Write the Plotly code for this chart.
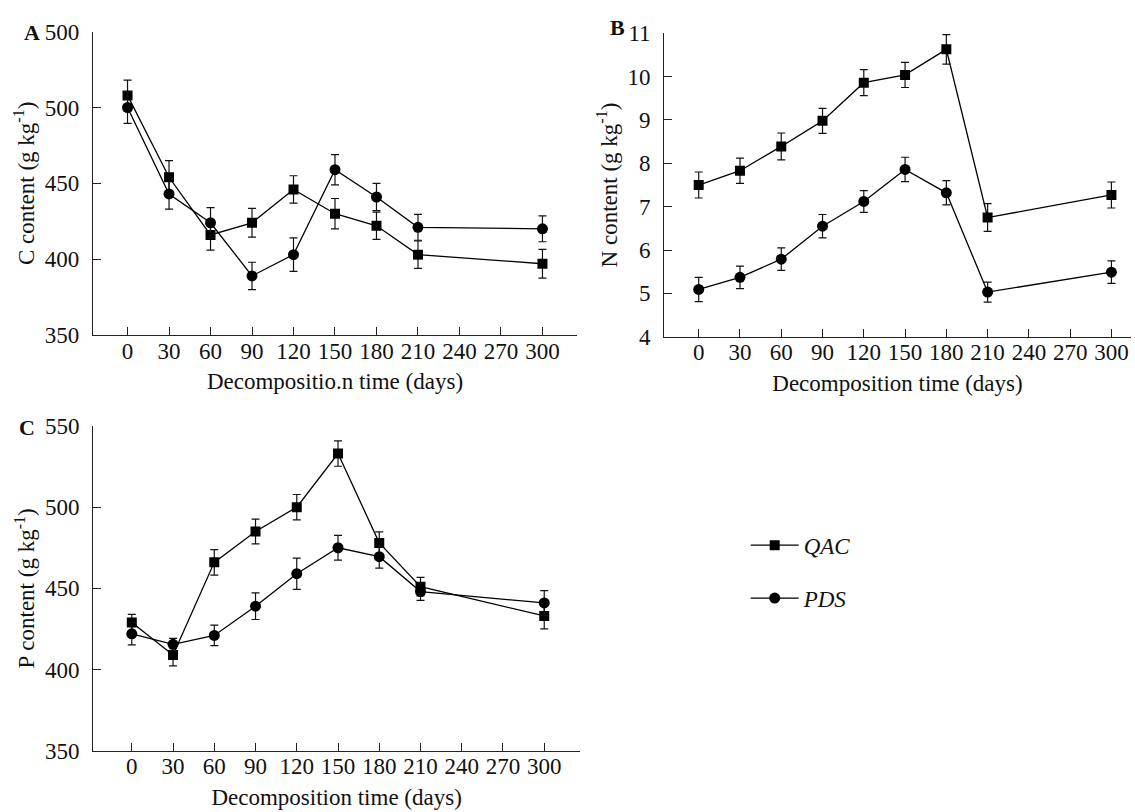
import plotly.graph_objects as go

days = [0, 30, 60, 90, 120, 150, 180, 210, 300]
x_ticks = [0, 30, 60, 90, 120, 150, 180, 210, 240, 270, 300]

# Panel A: C content (g kg-1)
c_qac = [508, 454, 416, 424, 446, 430, 422, 403, 397]
c_qac_err = [10, 11, 10, 9.5, 9, 10, 9, 9, 9.5]
c_pds = [500, 443, 424, 389, 403, 459, 441, 421, 420]
c_pds_err = [10.5, 10, 10, 9, 11, 10, 9, 8.5, 8.5]

# Panel B: N content (g kg-1)
n_qac = [7.50, 7.83, 8.39, 8.98, 9.86, 10.04, 10.63, 6.75, 7.27]
n_qac_err = [0.30, 0.29, 0.31, 0.29, 0.30, 0.29, 0.34, 0.32, 0.30]
n_pds = [5.09, 5.37, 5.79, 6.55, 7.12, 7.86, 7.32, 5.03, 5.49]
n_pds_err = [0.28, 0.26, 0.26, 0.27, 0.25, 0.28, 0.28, 0.23, 0.26]

# Panel C: P content (g kg-1)
p_qac = [429, 409, 466, 485, 500, 533, 478, 451, 433]
p_qac_err = [5, 6.8, 7.8, 7.6, 7.8, 7.8, 6.8, 5.7, 8]
p_pds = [422, 415.5, 421, 439, 459, 475, 469.5, 448, 441]
p_pds_err = [6.8, 3.7, 6.3, 8.2, 9.6, 7.6, 7.1, 5.4, 7.6]

y_ticks_a = [350, 400, 450, 500, 550]
y_ticktext_a = ["350", "400", "450", "500", "500"]

FONT = "Liberation Serif, Times New Roman, serif"
FS = 23

fig = go.Figure()

def add_pair(xa, ya, qac, qerr, pds, perr, showleg):
    fig.add_trace(go.Scatter(
        x=days, y=qac, mode="lines+markers", name="<i>QAC</i>",
        xaxis=xa, yaxis=ya, showlegend=showleg, legendgroup="qac",
        line=dict(color="black", width=1.3),
        marker=dict(symbol="square", size=10, color="black"),
        error_y=dict(type="data", array=qerr, visible=True, color="#111",
                     thickness=1.2, width=4)))
    fig.add_trace(go.Scatter(
        x=days, y=pds, mode="lines+markers", name="<i>PDS</i>",
        xaxis=xa, yaxis=ya, showlegend=showleg, legendgroup="pds",
        line=dict(color="black", width=1.3),
        marker=dict(symbol="circle", size=11, color="black"),
        error_y=dict(type="data", array=perr, visible=True, color="#111",
                     thickness=1.2, width=4)))

add_pair("x", "y", c_qac, c_qac_err, c_pds, c_pds_err, True)
add_pair("x2", "y2", n_qac, n_qac_err, n_pds, n_pds_err, False)
add_pair("x3", "y3", p_qac, p_qac_err, p_pds, p_pds_err, False)

axis_common = dict(showline=True, linecolor="#222", linewidth=1.3,
                   ticks="inside", ticklen=8, tickwidth=1.2, tickcolor="#222",
                   showgrid=False, zeroline=False, automargin=False,
                   tickfont=dict(family=FONT, size=FS, color="#111"))

xt = dict(axis_common, tickmode="array", tickvals=x_ticks, ticklabelstandoff=-5)
yt = dict(axis_common, ticklabelstandoff=8)

tfont = dict(family=FONT, size=FS, color="#111")

fig.update_layout(
    width=1135, height=812,
    margin=dict(l=0, r=0, t=0, b=0),
    paper_bgcolor="white", plot_bgcolor="white",
    font=dict(family=FONT, size=FS, color="#111"),
    xaxis=dict(xt, domain=[0.0819, 0.5084], range=[-25, 325], anchor="y",
               title=dict(text="Decompositio.n time (days)", standoff=10, font=tfont)),
    yaxis=dict(yt, domain=[0.5874, 0.961], range=[350, 550], anchor="x",
               tickmode="array", tickvals=y_ticks_a, ticktext=y_ticktext_a,
               title=dict(text="C content (g kg<sup>-1</sup>)", standoff=3, font=tfont)),
    xaxis2=dict(xt, domain=[0.5853, 0.9962], range=[-25, 314], anchor="y2",
                title=dict(text="Decomposition time (days)", standoff=10, font=tfont)),
    yaxis2=dict(yt, domain=[0.5853, 0.959], range=[4, 11], anchor="x2",
                tickmode="linear", tick0=4, dtick=1,
                title=dict(text="N content (g kg<sup>-1</sup>)", standoff=3, font=tfont)),
    xaxis3=dict(xt, domain=[0.0822, 0.511], range=[-28, 326], anchor="y3",
                title=dict(text="Decomposition time (days)", standoff=10, font=tfont)),
    yaxis3=dict(yt, domain=[0.0755, 0.4754], range=[350, 550], anchor="x3",
                tickmode="linear", tick0=350, dtick=50,
                title=dict(text="P content (g kg<sup>-1</sup>)", standoff=3, font=tfont)),
    legend=dict(x=0.657, y=0.355, xanchor="left", yanchor="top",
                bgcolor="rgba(0,0,0,0)", tracegroupgap=20,
                font=dict(family=FONT, size=23, color="#111"), itemwidth=48),
    showlegend=True,
)

for txt, xp, yp in [("A", 32, 33), ("B", 617, 27), ("C", 27, 427)]:
    fig.add_annotation(text="<b>" + txt + "</b>", x=xp / 1135, y=1 - yp / 812,
                       xref="paper", yref="paper", showarrow=False,
                       xanchor="center", yanchor="middle",
                       font=dict(family=FONT, size=22, color="#111"))

fig.write_html("out.html")
